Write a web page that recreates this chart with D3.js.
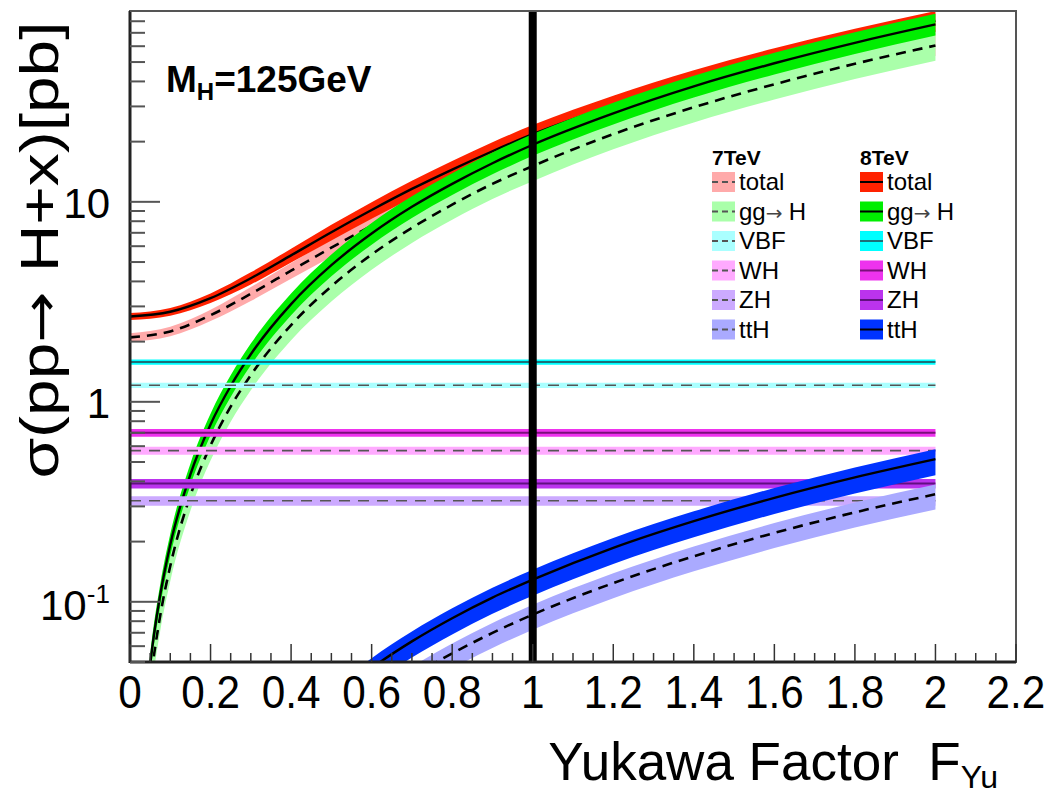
<!DOCTYPE html>
<html>
<head>
<meta charset="utf-8">
<script src="https://cdn.jsdelivr.net/npm/d3@7"></script>
<style>
  body { margin: 0; background: #fff; }
  text { font-family: "Liberation Sans", Arial, sans-serif; }
  .arrow { font-family: "DejaVu Sans", sans-serif; }
</style>
</head>
<body>
<svg id="chart" width="1048" height="796"></svg>
<script>
// x grids (Yukawa factor)
const fTot = [0, 0.1, 0.2, 0.3, 0.4, 0.5, 0.6, 0.7, 0.8, 0.9, 1.0, 1.2, 1.4, 1.6, 1.8, 2.0];
const fGG = [0.03, 0.05, 0.075, 0.1, 0.15, 0.2, 0.25, 0.3, 0.4, 0.5, 0.6, 0.7, 0.8, 0.9, 1.0, 1.2, 1.4, 1.6, 1.8, 2.0];
const fTT = [0.5, 0.6, 0.7, 0.8, 0.9, 1.0, 1.2, 1.4, 1.6, 1.8, 2.0];
const fFlat = [0, 2.0];

// cross sections [pb]
const total8 = [2.67, 2.82, 3.30, 4.15, 5.40, 7.05, 9.10, 11.6, 14.5, 17.9, 21.8, 30.4, 40.6, 52.3, 65.5, 80.3];
const total7 = [2.10, 2.25, 2.71, 3.47, 4.53, 5.90, 7.58, 9.55, 11.8, 14.4, 17.3, 24.0, 31.9, 41.0, 51.3, 63.0];
const total8Err = [0.04, 0.045, 0.055, 0.07, 0.08, 0.09, 0.095, 0.10, 0.105, 0.11, 0.11, 0.115, 0.12, 0.12, 0.12, 0.12];
const total7Err = [0.05, 0.055, 0.065, 0.08, 0.09, 0.10, 0.11, 0.12, 0.13, 0.13, 0.14, 0.14, 0.15, 0.15, 0.15, 0.15];

const ggH8 = [0.0173, 0.0482, 0.108, 0.193, 0.434, 0.771, 1.20, 1.73, 3.08, 4.82, 6.94, 9.44, 12.3, 15.6, 19.3, 27.7, 37.8, 49.3, 62.4, 77.1];
const ggH7 = [0.0136, 0.0378, 0.0851, 0.151, 0.340, 0.605, 0.946, 1.36, 2.42, 3.78, 5.45, 7.41, 9.68, 12.3, 15.1, 21.8, 29.7, 38.7, 49.0, 60.5];

const ttH8 = [0.032, 0.0466, 0.0634, 0.0828, 0.105, 0.129, 0.186, 0.253, 0.331, 0.419, 0.517];
const ttH7 = [0.0216, 0.0311, 0.0423, 0.0552, 0.0699, 0.0863, 0.124, 0.169, 0.221, 0.280, 0.345];

const vbf8 = [1.58, 1.58], vbf7 = [1.21, 1.21];
const wh8 = [0.70, 0.70], wh7 = [0.57, 0.57];
const zh8 = [0.39, 0.39], zh7 = [0.32, 0.32];

// relative band widths [up, down]
const errGG8 = [0.13, 0.12], errGG7 = [0.15, 0.16];
const errTT8 = [0.12, 0.17], errTT7 = [0.12, 0.16];
const errVBF = [0.03, 0.03], errWH = [0.045, 0.045], errZH = [0.055, 0.055];

const legendNames = ["total", "gg|H", "VBF", "WH", "ZH", "ttH"];
const colors7 = ["#ffaaaa", "#aaffaa", "#aaffff", "#ffaaff", "#ccaaff", "#aaaaff"];
const colors8 = ["#ff2200", "#00ee00", "#00ffff", "#ee33ee", "#bb33ee", "#0033ff"];
const flatLine8 = ["#000", "#000", "#1d6f78", "#7a107a", "#601080", "#000"];

const xTicksMajor = [0, 0.2, 0.4, 0.6, 0.8, 1, 1.2, 1.4, 1.6, 1.8, 2, 2.2];

const svg = d3.select("#chart");
const pLeft = 130, pRight = 1016, pTop = 11, pBottom = 662;

const x = d3.scaleLinear().domain([0, 2.2]).range([pLeft, pRight]);
const y = d3.scaleLog().domain([0.05, 90]).range([pBottom, pTop]);

svg.append("defs").append("clipPath").attr("id", "plotclip")
  .append("rect").attr("x", pLeft).attr("y", pTop)
  .attr("width", pRight - pLeft).attr("height", pBottom - pTop);

const plot = svg.append("g").attr("clip-path", "url(#plotclip)");

function band(xs, vals, errUp, errDown, fill) {
  const up = i => Array.isArray(errUp) ? errUp[i] : errUp;
  const dn = i => Array.isArray(errDown) ? errDown[i] : errDown;
  const area = d3.area()
    .x((d, i) => x(xs[i]))
    .y0((d, i) => y(d * (1 - dn(i))))
    .y1((d, i) => y(d * (1 + up(i))))
    .curve(d3.curveMonotoneX);
  plot.append("path").attr("d", area(vals)).attr("fill", fill);
}

function line(xs, vals, color, width, dash) {
  const l = d3.line()
    .x((d, i) => x(xs[i]))
    .y(d => y(d))
    .curve(d3.curveMonotoneX);
  plot.append("path").attr("d", l(vals))
    .attr("fill", "none")
    .attr("stroke", color)
    .attr("stroke-width", width)
    .attr("stroke-dasharray", dash || null);
}

const dash7 = "10,7";

// totals
band(fTot, total7, total7Err, total7Err, colors7[0]);
band(fTot, total8, total8Err, total8Err, colors8[0]);
line(fTot, total7, "#000", 2.6, dash7);
line(fTot, total8, "#000", 2.4);

// gg -> H
band(fGG, ggH7, errGG7[0], errGG7[1], colors7[1]);
line(fGG, ggH7, "#000", 2.6, dash7);
band(fGG, ggH8, errGG8[0], errGG8[1], colors8[1]);
line(fGG, ggH8, "#000", 2.4);

// flat processes
const flats = [[vbf7, vbf8, errVBF, 2], [wh7, wh8, errWH, 3], [zh7, zh8, errZH, 4]];
flats.forEach(([v7, v8, err, k]) => {
  band(fFlat, v7, err[0], err[1], colors7[k]);
  line(fFlat, v7, "#555", 1.6, "11,8");
  band(fFlat, v8, err[0], err[1], colors8[k]);
  line(fFlat, v8, flatLine8[k], 2);
});

// ttH
band(fTT, ttH7, errTT7[0], errTT7[1], colors7[5]);
line(fTT, ttH7, "#000", 2.6, dash7);
band(fTT, ttH8, errTT8[0], errTT8[1], colors8[5]);
line(fTT, ttH8, "#000", 2.4);

// SM reference line at F = 1
svg.append("line")
  .attr("x1", x(1)).attr("x2", x(1))
  .attr("y1", pTop).attr("y2", pBottom)
  .attr("stroke", "#000").attr("stroke-width", 8);

// frame
svg.append("rect")
  .attr("x", pLeft).attr("y", pTop)
  .attr("width", pRight - pLeft).attr("height", pBottom - pTop)
  .attr("fill", "none").attr("stroke", "#555").attr("stroke-width", 2);
svg.append("line").attr("x1", pLeft).attr("x2", pLeft).attr("y1", pTop).attr("y2", pBottom + 1)
  .attr("stroke", "#222").attr("stroke-width", 3);
svg.append("line").attr("x1", pLeft).attr("x2", pRight).attr("y1", pBottom).attr("y2", pBottom)
  .attr("stroke", "#222").attr("stroke-width", 3);

// y ticks
const yMajor = [0.1, 1, 10];
const yMinor = [];
[0.01, 0.1, 1, 10].forEach(p => {
  for (let m = 2; m <= 9; m++) {
    const v = p * m;
    if (v >= 0.05 && v <= 90) yMinor.push(v);
  }
});
svg.append("g").selectAll("line").data(yMinor).join("line")
  .attr("x1", pLeft).attr("x2", pLeft + 15)
  .attr("y1", d => y(d)).attr("y2", d => y(d))
  .attr("stroke", "#555").attr("stroke-width", 2);
svg.append("g").selectAll("line").data(yMajor).join("line")
  .attr("x1", pLeft).attr("x2", pLeft + 30)
  .attr("y1", d => y(d)).attr("y2", d => y(d))
  .attr("stroke", "#555").attr("stroke-width", 2);

// x ticks
const xAll = d3.range(0, 45).map(i => i * 0.05);
svg.append("g").selectAll("line").data(xAll).join("line")
  .attr("x1", d => x(d)).attr("x2", d => x(d))
  .attr("y1", pBottom)
  .attr("y2", (d, i) => pBottom - (i % 4 === 0 ? 18 : 9))
  .attr("stroke", "#333").attr("stroke-width", 1.5);

// tick labels
svg.append("g").selectAll("text").data(xTicksMajor).join("text")
  .attr("transform", d => `translate(${x(d)},708) scale(0.92,1)`)
  .attr("text-anchor", "middle")
  .attr("font-size", 46)
  .text(d => d3.format("~g")(d));

svg.append("text").attr("x", 110).attr("y", 218).attr("text-anchor", "end")
  .attr("font-size", 42).text("10");
svg.append("text").attr("x", 110).attr("y", 418).attr("text-anchor", "end")
  .attr("font-size", 42).text("1");
const tm1 = svg.append("text").attr("x", 40).attr("y", 620).attr("font-size", 42);
tm1.append("tspan").text("10");
tm1.append("tspan").attr("font-size", 26).attr("dy", -17).text("-1");

// axis titles
const xt = svg.append("text").attr("x", 998).attr("y", 780).attr("text-anchor", "end")
  .attr("font-size", 53).style("white-space", "pre");
xt.append("tspan").text("Yukawa Factor  F");
xt.append("tspan").attr("font-size", 32).attr("dy", 8).text("Yu");

const yt = svg.append("text")
  .attr("transform", "translate(58,250) rotate(-90) scale(1.22,1)")
  .attr("text-anchor", "middle")
  .attr("font-size", 54)
  .style("white-space", "pre");
yt.append("tspan").text("\u03c3(pp");
yt.append("tspan").attr("class", "arrow").attr("font-size", 50).text("\u2192 ");
yt.append("tspan").text("H+x)[pb]");

// M_H label
const mh = svg.append("text").attr("x", 166).attr("y", 92).attr("font-size", 37).attr("font-weight", "bold");
mh.append("tspan").text("M");
mh.append("tspan").attr("font-size", 24).attr("dy", 8).text("H");
mh.append("tspan").attr("dy", -8).text("=125GeV");

// legend
const legend = svg.append("g");
const legCols = [{x: 712, title: "7TeV", colors: colors7, dashed: true},
                 {x: 860, title: "8TeV", colors: colors8, dashed: false}];
legCols.forEach(col => {
  legend.append("text").attr("x", col.x).attr("y", 165)
    .attr("font-size", 21).attr("font-weight", "bold").text(col.title);
  legendNames.forEach((name, i) => {
    const cy = 182 + i * 29.5;
    legend.append("rect").attr("x", col.x).attr("y", cy - 10)
      .attr("width", 23).attr("height", 20).attr("fill", col.colors[i]);
    legend.append("line").attr("x1", col.x).attr("x2", col.x + 23)
      .attr("y1", cy).attr("y2", cy)
      .attr("stroke", col.dashed ? "#555" : (i >= 2 && i <= 4 ? flatLine8[i] : "#000"))
      .attr("stroke-width", 2)
      .attr("stroke-dasharray", col.dashed ? "6,4" : null);
    const t = legend.append("text").attr("x", col.x + 27).attr("y", cy + 8)
      .attr("font-size", 24).style("white-space", "pre");
    const parts = name.split("|");
    t.append("tspan").text(parts[0]);
    if (parts.length > 1) {
      t.append("tspan").attr("class", "arrow").attr("font-size", 20).attr("fill", "#444").text("\u2192 ");
      t.append("tspan").text(parts[1]);
    }
  });
});
</script>
</body>
</html>
